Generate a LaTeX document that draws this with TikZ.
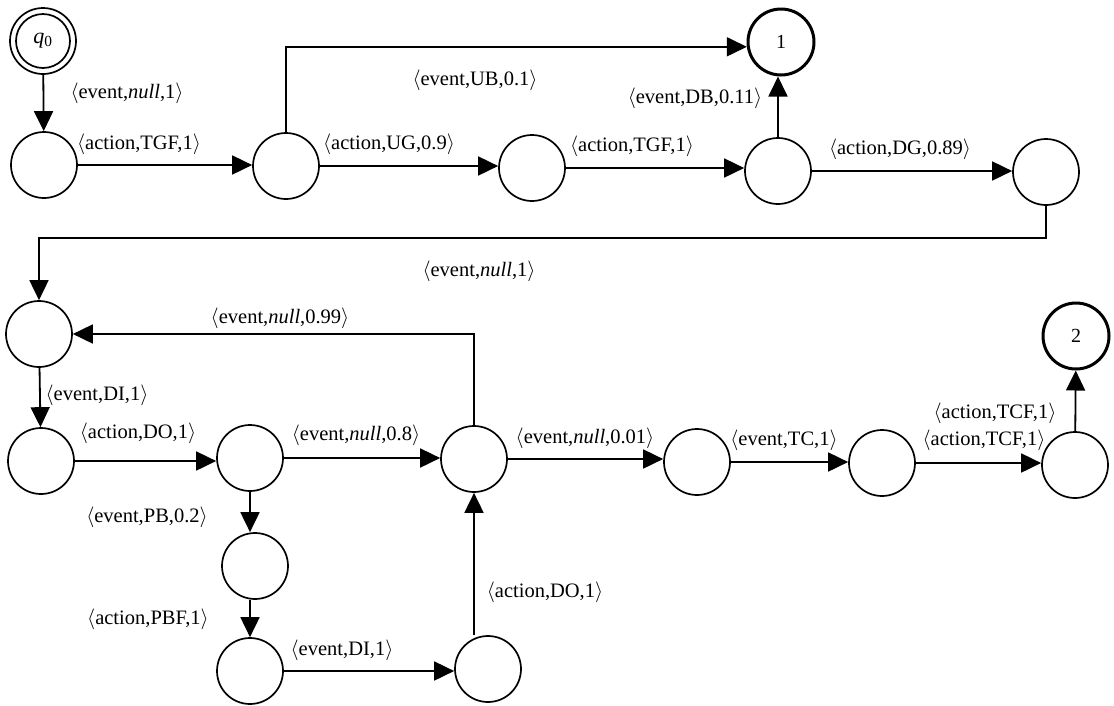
\documentclass[tikz,border=0pt]{standalone}
\usepackage{fontspec}
\setmainfont{Liberation Serif}
\usetikzlibrary{arrows.meta,calc}
\tikzset{
  st/.style={circle,draw,line width=1.7pt,minimum size=66pt,inner sep=0pt,font=\fontsize{20}{24}\selectfont},
  fin/.style={st,line width=3pt},
  lbl/.style={inner sep=0pt,font=\fontsize{20.5}{24}\selectfont},
  tr/.style={line width=1.8pt,-{Triangle[length=20pt,width=19pt]}},
}
\newcommand{\lab}[1]{$\langle$#1$\rangle$}
\begin{document}
\begin{tikzpicture}[x=1pt,y=-1pt]
\useasboundingbox[fill=white] (0,0) rectangle (1114,705);
% states
\node[st] (q0) at (43,41) {\fontsize{22}{24}\selectfont\textit{q}\textsubscript{0}};
\node[st,minimum size=54pt] (q0in) at (43,41) {};
\node[st] (a1) at (44,165) {};
\node[st] (a2) at (286,166) {};
\node[st] (a3) at (532,168) {};
\node[st] (a4) at (778,171) {};
\node[st] (a5) at (1046,172) {};
\node[fin] (n1) at (781,42) {1};
\node[st] (b1) at (39,334) {};
\node[st] (c1) at (41,461) {};
\node[st] (c2) at (250,458) {};
\node[st] (c3) at (474,459) {};
\node[st] (c4) at (697,462) {};
\node[st] (c5) at (882,463) {};
\node[st] (c6) at (1075,465) {};
\node[fin] (n2) at (1076,336) {2};
\node[st] (d1) at (255,566) {};
\node[st] (d2) at (250,671) {};
\node[st] (d3) at (488,669) {};
% edges
\draw[tr] (q0) -- (a1);
\draw[tr] (a1) -- (a1 -| a2.west);
\draw[tr] (a2.north) |- (n1.188);
\draw[tr] (a2) -- (a2 -| a3.west);
\draw[tr] (a3) -- (a3 -| a4.west);
\draw[tr] (a4.north) -- (a4.north |- n1.south);
\draw[tr] (a4) -- (a4 -| a5.west);
\draw[tr] (a5.south) -- ++(0,32) -| (b1.north);
\draw[tr] (c3.north) |- (b1.east);
\draw[tr] (b1) -- (c1);
\draw[tr] (c1) -- (c1 -| c2.west);
\draw[tr] (c2) -- (c2 -| c3.west);
\draw[tr] (c3) -- (c3 -| c4.west);
\draw[tr] (c4) -- (c4 -| c5.west);
\draw[tr] (c5) -- (c5 -| c6.west);
\draw[tr] (c6) -- (n2);
\draw[tr] (c2.south) -- (c2.south |- d1.north);
\draw[tr] (d2.north |- d1.south) -- (d2.north);
\draw[tr] (d2) -- (d2 -| d3.west);
\draw[tr] (c3.south |- d3.north) -- (c3.south);
% labels
\node[lbl] (l1) at (127,93) {\lab{event,\textit{null},1}};
\node[lbl] (l2) at (139,144) {\lab{action,TGF,1}};
\node[lbl] (l3) at (475,80) {\lab{event,UB,0.1}};
\node[lbl] (l4) at (389,144) {\lab{action,UG,0.9}};
\node[lbl] (l5) at (632,146) {\lab{action,TGF,1}};
\node[lbl] (l6) at (695,98) {\lab{event,DB,0.11}};
\node[lbl] (l7) at (900,149) {\lab{action,DG,0.89}};
\node[lbl] (l8) at (479,271) {\lab{event,\textit{null},1}};
\node[lbl] (l9) at (280,318) {\lab{event,\textit{null},0.99}};
\node[lbl] (l10) at (97,395) {\lab{event,DI,1}};
\node[lbl] (l11) at (138,433) {\lab{action,DO,1}};
\node[lbl] (l12) at (356,435) {\lab{event,\textit{null},0.8}};
\node[lbl] (l13) at (585,438) {\lab{event,\textit{null},0.01}};
\node[lbl] (l14) at (784,440) {\lab{event,TC,1}};
\node[lbl] (l15) at (995,413) {\lab{action,TCF,1}};
\node[lbl] (l16) at (984,440) {\lab{action,TCF,1}};
\node[lbl] (l17) at (147,517) {\lab{event,PB,0.2}};
\node[lbl] (l18) at (148,619) {\lab{action,PBF,1}};
\node[lbl] (l19) at (342,650) {\lab{event,DI,1}};
\node[lbl] (l20) at (545,592) {\lab{action,DO,1}};
\end{tikzpicture}
\end{document}
